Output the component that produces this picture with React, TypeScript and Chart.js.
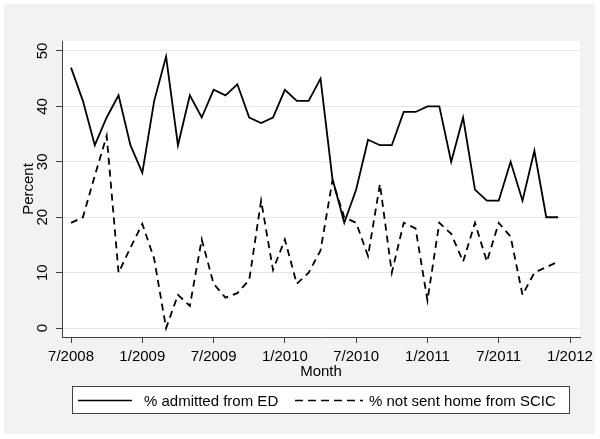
import React, { useEffect, useRef } from "react";
import { Chart, registerables } from "chart.js";

Chart.register(...registerables);

// Months from 7/2008 to 12/2011 (x = index of month since 7/2008)
const months = [
  "2008-07", "2008-08", "2008-09", "2008-10", "2008-11", "2008-12",
  "2009-01", "2009-02", "2009-03", "2009-04", "2009-05", "2009-06",
  "2009-07", "2009-08", "2009-09", "2009-10", "2009-11", "2009-12",
  "2010-01", "2010-02", "2010-03", "2010-04", "2010-05", "2010-06",
  "2010-07", "2010-08", "2010-09", "2010-10", "2010-11", "2010-12",
  "2011-01", "2011-02", "2011-03", "2011-04", "2011-05", "2011-06",
  "2011-07", "2011-08", "2011-09", "2011-10", "2011-11", "2011-12",
];

const admittedFromED = [
  47, 41, 33, 38, 42, 33, 28, 41, 49, 33, 42, 38, 43, 42, 44, 38, 37, 38, 43, 41, 41,
  45, 27, 19, 25, 34, 33, 33, 39, 39, 40, 40, 30, 38, 25, 23, 23, 30, 23, 32, 20, 20,
];

const notSentHomeSCIC = [
  19, 20, 27.5, 34.7, 10, 14.5, 18.8, 12.5, 0, 6, 4, 16, 8, 5.5, 6.3, 8.7, 23, 10.5, 16, 8, 10,
  14, 26.6, 20, 19, 13, 26, 10, 19, 18, 5, 19, 17, 12, 19, 12, 19, 16.5, 6, 10, 11, 12,
];

const xTickMonths = [0, 6, 12, 18, 24, 30, 36, 42];
const xTickLabels = ["7/2008", "1/2009", "7/2009", "1/2010", "7/2010", "1/2011", "7/2011", "1/2012"];
const yTicks = [0, 10, 20, 30, 40, 50];

const seriesLabels = ["% admitted from ED", "% not sent home from SCIC"];

const W = 600;
const H = 439;
const FONT = "15px 'Liberation Sans', Arial, sans-serif";
const AXIS = "#404040";

const decorPlugin = {
  id: "decor",
  beforeDraw(chart: any) {
    const { ctx, chartArea: a } = chart;
    ctx.save();
    ctx.fillStyle = "#ffffff";
    ctx.fillRect(0, 0, W, H);
    ctx.fillStyle = "#f2f2f2";
    ctx.fillRect(4, 4, 591, 430);
    ctx.fillStyle = "#ffffff";
    ctx.fillRect(a.left, a.top, a.right - a.left, a.bottom - a.top);
    ctx.restore();
  },
  afterDraw(chart: any) {
    const { ctx, chartArea: a } = chart;
    const xs = chart.scales.x;
    const ys = chart.scales.y;
    ctx.save();
    ctx.fillStyle = "#000";
    ctx.font = FONT;
    ctx.textBaseline = "alphabetic";
    ctx.textAlign = "center";
    // y tick labels (rotated)
    yTicks.forEach((v) => {
      const y = ys.getPixelForValue(v);
      ctx.save();
      ctx.translate(47.4, y);
      ctx.rotate(-Math.PI / 2);
      ctx.fillText(String(v), 0, 0);
      ctx.restore();
    });
    // y title
    ctx.save();
    ctx.translate(33.4, (a.top + a.bottom) / 2);
    ctx.rotate(-Math.PI / 2);
    ctx.fillText("Percent", 0, 0);
    ctx.restore();
    // x tick labels
    xTickMonths.forEach((m, i) => {
      ctx.fillText(xTickLabels[i], xs.getPixelForValue(m), 361);
    });
    // x title
    ctx.fillText("Month", (a.left + a.right) / 2, 376);

    // legend
    ctx.fillStyle = "#ffffff";
    ctx.fillRect(72, 386, 497, 27);
    ctx.strokeStyle = AXIS;
    ctx.lineWidth = 1;
    ctx.strokeRect(72.5, 386.5, 497, 27);
    ctx.strokeStyle = "#000";
    ctx.lineWidth = 1.6;
    ctx.beginPath();
    ctx.moveTo(78, 400.5);
    ctx.lineTo(132, 400.5);
    ctx.stroke();
    ctx.setLineDash([8, 5]);
    ctx.beginPath();
    ctx.moveTo(295, 400.5);
    ctx.lineTo(363, 400.5);
    ctx.stroke();
    ctx.setLineDash([]);
    ctx.fillStyle = "#000";
    ctx.textAlign = "left";
    ctx.fillText(seriesLabels[0], 144, 406);
    ctx.fillText(seriesLabels[1], 369, 406);
    ctx.restore();
  },
};

export default function App() {
  const ref = useRef<HTMLCanvasElement | null>(null);

  useEffect(() => {
    if (!ref.current) return;
    const chart = new Chart(ref.current, {
      type: "line",
      data: {
        datasets: [
          {
            label: seriesLabels[0],
            data: admittedFromED.map((v, i) => ({ x: i, y: v })),
            borderColor: "#000",
            borderWidth: 1.8,
            pointRadius: 0,
            tension: 0,
            fill: false,
          },
          {
            label: seriesLabels[1],
            data: notSentHomeSCIC.map((v, i) => ({ x: i, y: v })),
            borderColor: "#000",
            borderWidth: 1.8,
            borderDash: [7, 5],
            pointRadius: 0,
            tension: 0,
            fill: false,
          },
        ],
      },
      options: {
        animation: false,
        responsive: false,
        devicePixelRatio: 1,
        layout: { padding: { left: 0, top: 41, right: 20, bottom: 0 } },
        plugins: {
          legend: { display: false },
          tooltip: { enabled: false },
          title: { display: false },
        },
        scales: {
          x: {
            type: "linear",
            min: -0.76,
            max: 42.84,
            afterBuildTicks: (s: any) => {
              s.ticks = xTickMonths.map((v) => ({ value: v }));
            },
            afterFit: (s: any) => {
              s.height = H - 337;
            },
            ticks: { display: false },
            grid: {
              drawOnChartArea: false,
              drawTicks: true,
              tickLength: 6,
              color: AXIS,
              tickColor: AXIS,
              lineWidth: 1,
            },
            border: { display: true, color: AXIS, width: 1 },
          },
          y: {
            type: "linear",
            min: -1.6,
            max: 51.8,
            afterBuildTicks: (s: any) => {
              s.ticks = yTicks.map((v) => ({ value: v }));
            },
            afterFit: (s: any) => {
              s.width = 62;
            },
            ticks: { display: false },
            grid: {
              drawOnChartArea: true,
              drawTicks: true,
              tickLength: 6,
              color: "#e6e6e6",
              tickColor: AXIS,
              lineWidth: 1,
            },
            border: { display: true, color: AXIS, width: 1 },
          },
        },
      },
      plugins: [decorPlugin],
    });
    return () => chart.destroy();
  }, []);

  return (
    <div style={{ position: "absolute", left: 0, top: 0, width: W, height: H }}>
      <canvas ref={ref} width={W} height={H} style={{ width: W, height: H }} />
    </div>
  );
}
